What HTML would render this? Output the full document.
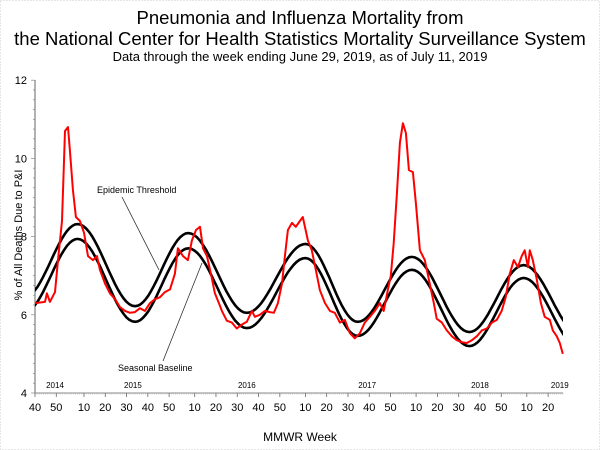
<!DOCTYPE html>
<html><head><meta charset="utf-8"><style>
body{margin:0;background:#fff;}
svg{display:block;font-family:"Liberation Sans",sans-serif;}
</style></head><body>
<svg width="600" height="450" viewBox="0 0 600 450">
<rect x="0.5" y="0.5" width="599" height="449" fill="#fff" stroke="#ccc" stroke-dasharray="1,2"/>
<text x="300" y="24" text-anchor="middle" font-size="18.5">Pneumonia and Influenza Mortality from</text>
<text x="300" y="45" text-anchor="middle" font-size="18.5">the National Center for Health Statistics Mortality Surveillance System</text>
<text x="300" y="61" text-anchor="middle" font-size="13">Data through the week ending June 29, 2019, as of July 11, 2019</text>
<text transform="translate(22,235) rotate(-90)" text-anchor="middle" font-size="11">% of All Deaths Due to P&amp;I</text>
<text x="300" y="441" text-anchor="middle" font-size="12">MMWR Week</text>
<g id="axes"></g>
<g id="plot"></g>
<text x="97" y="193" font-size="9">Epidemic Threshold</text>
<line x1="122" y1="197" x2="159" y2="270" stroke="#333" stroke-width="0.8"/>
<text x="118" y="371" font-size="9">Seasonal Baseline</text>
<line x1="163" y1="361" x2="202" y2="263" stroke="#333" stroke-width="0.8"/>
</svg>
<script>
const weeks=[0,4.7,5.6,7,9.4,10.8,12.7,14.1,15.5,16.4,17.8,19.2,21.1,23,24.9,27.2,29.1,30.5,32.9,35.2,37.6,39.9,42.3,44.6,46.9,49.3,51.6,54,56.3,58.7,61,63.4,65.7,67.1,69.5,71.8,73.7,75.6,77.5,78.9,80.8,82.6,84.5,86.4,87.8,90.1,92.5,94.8,97.2,99.5,101.9,103.3,105.6,108,110.3,112.2,114.1,116,117.4,118.8,120.7,122.5,124.4,125.8,128.2,130,131.9,133.8,136.2,138.5,140.8,143.2,145.5,147.9,150.2,152.6,154.9,157.3,159.6,162,163.8,165.7,167.1,168.5,170,171.4,172.8,174.2,175.6,177.5,178.9,180.8,183.1,185.4,187.3,188.7,191.1,193.4,195.8,198.1,200.5,202.8,205.2,207.5,209.9,212.2,214.6,216.9,219.2,221.1,223,224.9,226.8,228.6,230,231.5,232.4,233.8,235.7,237.6,239.4,241.8,243.2,245.1,246.5,247.9];
const pniValues=[6.3,6.33,6.55,6.33,6.58,7.4,8.4,10.7,10.8,10.2,9.2,8.5,8.4,8.1,7.5,7.4,7.5,7.15,6.8,6.55,6.4,6.2,6.1,6.05,6.07,6.17,6.1,6.3,6.4,6.45,6.58,6.65,7.05,7.7,7.5,7.4,7.9,8.17,8.25,7.7,7.5,7.05,6.55,6.3,6.1,5.85,5.8,5.65,5.75,5.82,6.1,5.95,6.0,6.1,6.07,6.05,6.3,6.8,7.5,8.17,8.35,8.25,8.4,8.5,7.9,7.65,7.15,6.63,6.3,6.1,6.05,5.8,5.87,5.53,5.4,5.53,5.8,5.95,6.1,6.3,6.1,6.63,7.0,7.83,9.1,10.4,10.9,10.65,9.7,9.65,8.85,7.65,7.4,6.8,6.3,5.9,5.8,5.6,5.45,5.35,5.3,5.28,5.35,5.45,5.6,5.65,5.8,5.87,6.1,6.45,7.05,7.4,7.22,7.5,7.65,7.22,7.65,7.4,6.9,6.3,5.95,5.87,5.6,5.45,5.28,5.0];
const curveWeeks=[-5,20,47,72,99.5,127,151.6,177,204,229.5,256];
const baselineValues=[6.07,7.94,5.82,7.7,5.66,7.45,5.46,7.15,5.2,6.94,5.14];
const thresholdValues=[6.45,8.32,6.22,8.09,6.05,7.81,5.82,7.48,5.56,7.27,5.5];
const xTickWeeks=[0,10,23,33,43,53,63,75,85,95,105,115,127,137,147,157,167,179,189,199,209,219,231,241];
const xTickLabels=["40","50","10","20","30","40","50","10","20","30","40","50","10","20","30","40","50","10","20","30","40","50","10","20"];
const yTicks=[4,6,8,10,12];
const yearWeeks=[9.4,46,99.5,156,209,246.5];
const yearLabels=["2014","2015","2016","2017","2018","2019"];

const NS="http://www.w3.org/2000/svg";
const X0=35,X1=563,Y0=393,PXU=39.1;
function xs(w){return X0+w*(X1-X0)/248;}
function ys(v){return Y0-(v-4)*PXU;}
function mk(tag,attrs,parent){const e=document.createElementNS(NS,tag);for(const k in attrs)e.setAttribute(k,attrs[k]);parent.appendChild(e);return e;}
const axes=document.getElementById('axes'),plot=document.getElementById('plot');

let a=mk('line',{x1:X0,y1:80,x2:X0,y2:Y0,stroke:'#666','stroke-width':1},axes);


a=mk('line',{x1:X0,y1:Y0,x2:X1,y2:Y0,stroke:'#888','stroke-width':1},axes);


for(let v=4;v<=12.001;v+=0.25){mk('line',{x1:X0-(v%2===0?4:2),y1:ys(v),x2:X0,y2:ys(v),stroke:'#888','stroke-width':0.7},axes);}
for(let w=0;w<=248;w++){mk('line',{x1:xs(w),y1:Y0,x2:xs(w),y2:Y0+1.5,stroke:'#aaa','stroke-width':0.5},axes);}
yTicks.forEach(v=>{const t=mk('text',{x:X0-8,y:ys(v)+4,'text-anchor':'end','font-size':11},axes);t.textContent=v;

});
xTickWeeks.forEach((w,i)=>{mk('line',{x1:xs(w),y1:Y0,x2:xs(w),y2:Y0+4,stroke:'#666','stroke-width':0.8},axes);
const t=mk('text',{x:xs(w),y:411,'text-anchor':'middle','font-size':11},axes);t.textContent=xTickLabels[i];

});
yearWeeks.forEach((w,i)=>{const t=mk('text',{x:xs(w),y:388,'text-anchor':'middle','font-size':8},axes);t.textContent=yearLabels[i];

});

const clip=mk('clipPath',{id:'pc'},mk('defs',{},plot));mk('rect',{x:X0,y:70,width:X1-X0,height:330},clip);
function curvePath(ws,vs){let d='';for(let i=0;i<ws.length-1;i++){const w0=ws[i],w1=ws[i+1],v0=vs[i],v1=vs[i+1];
for(let s=0;s<=20;s++){const f=s/20,w=w0+(w1-w0)*f,v=v0+(v1-v0)*(1-Math.cos(Math.PI*f))/2;d+=(d?'L':'M')+xs(w).toFixed(1)+','+ys(v).toFixed(1);}}return d;}
let p=mk('path',{d:curvePath(curveWeeks,thresholdValues),fill:'none',stroke:'#000','stroke-width':2.6,'clip-path':'url(#pc)'},plot);


p=mk('path',{d:curvePath(curveWeeks,baselineValues),fill:'none',stroke:'#000','stroke-width':2.6,'clip-path':'url(#pc)'},plot);


let d='';weeks.forEach((w,i)=>{d+=(i?'L':'M')+xs(w).toFixed(1)+','+ys(pniValues[i]).toFixed(1);});
p=mk('path',{d:d,fill:'none',stroke:'#f00','stroke-width':2,'stroke-linejoin':'round'},plot);


</script>
</body></html>
